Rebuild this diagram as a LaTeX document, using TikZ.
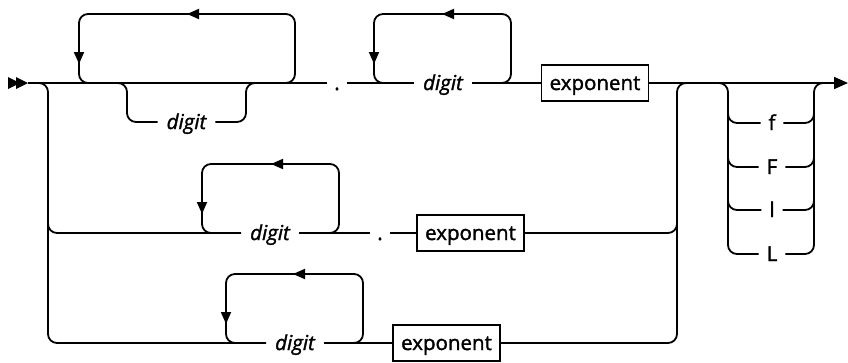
\documentclass[tikz,border=0pt]{standalone}
\usepackage{fontspec}
\setmainfont{Open Sans}[FakeBold=1.6]
\usetikzlibrary{arrows.meta}
\begin{document}
\begin{tikzpicture}[x=1pt,y=-1pt,line width=1.8pt,
  railpath/.style={rounded corners=9pt},
  lbl/.style={font=\fontsize{20.5}{24}\selectfont,inner xsep=9pt,inner ysep=0pt,
    text height=15.5pt,text depth=1.5pt,outer sep=0pt},
  ntlabel/.style={lbl,font=\fontsize{20.5}{24}\selectfont\itshape},
  termlabel/.style={lbl,inner xsep=8pt},
  dotlabel/.style={lbl,inner xsep=7pt},
  expbox/.style={lbl,draw,line width=1.6pt,inner xsep=8pt,minimum height=36pt},
  headA/.style={-{Triangle[length=12pt,width=10pt]}},
  headEnd/.style={-{Triangle[length=14pt,width=12pt]}},
]
\useasboundingbox (0,0) rectangle (848,362);

% start marks
\fill (8,77) -- (20,83) -- (8,89) -- cycle;
\fill (16,77) -- (28,83) -- (16,89) -- cycle;

% nodes
\coordinate (start) at (28,83);
\coordinate (end) at (848,83);
\node[ntlabel] (d1) at (186.5,122) {digit};
\node[dotlabel] (p1) at (337,83) {.};
\node[ntlabel] (d2) at (443,83) {digit};
\node[expbox] (e1) at (595,83) {exponent};
\node[termlabel] (f1) at (772,123) {f};
\node[termlabel] (f2) at (772,167) {F};
\node[termlabel] (f3) at (772,210) {l};
\node[termlabel] (f4) at (772,254) {L};
\node[ntlabel] (d3) at (270,233) {digit};
\node[dotlabel] (p2) at (380,233) {.};
\node[expbox] (e2) at (470.5,233) {exponent};
\node[ntlabel] (d4) at (295,343) {digit};
\node[expbox] (e3) at (446.5,343) {exponent};

% row 1 main line
\draw (start) -- (p1);
\draw (p1) -- (d2);
\draw (d2) -- (e1);
\draw[headEnd] (e1) -- (end);

% loop 1
\draw[railpath] (280,83) -- (295,83) -- (295,14) -- (79,14) -- (79,83) -- (94,83);
\draw[headA] (205,14) -- (187,14);
\draw[headA] (79,46) -- (79,64);
% optional digit below
\draw[railpath] (110,83) -- (127,83) -- (127,122) -- (d1);
\draw[railpath] (d1) -- (246,122) -- (246,83) -- (263,83);

% loop 2
\draw[railpath] (496,83) -- (511,83) -- (511,14) -- (374,14) -- (374,83) -- (389,83);
\draw[headA] (460,14) -- (442,14);
\draw[headA] (374,46) -- (374,64);

% left rail
\draw[railpath] (30,83) -- (48,83) -- (48,343) -- (d4);
\draw[railpath] (48,215) -- (48,233) -- (d3);
% right rail
\draw[railpath] (e3) -- (677,343) -- (677,83) -- (695,83);
\draw[railpath] (e2) -- (677,233) -- (677,215);

% row 2
\draw (d3) -- (p2);
\draw (p2) -- (e2);
\draw[railpath] (324,233) -- (339,233) -- (339,164) -- (202,164) -- (202,233) -- (217,233);
\draw[headA] (289,164) -- (271,164);
\draw[headA] (202,196) -- (202,214);

% row 3
\draw (d4) -- (e3);
\draw[railpath] (348,343) -- (363,343) -- (363,274) -- (226,274) -- (226,343) -- (241,343);
\draw[headA] (311,274) -- (293,274);
\draw[headA] (226,306) -- (226,324);

% suffix options
\draw[railpath] (710,83) -- (728,83) -- (728,254) -- (f4);
\draw[railpath] (728,105) -- (728,123) -- (f1);
\draw[railpath] (728,149) -- (728,167) -- (f2);
\draw[railpath] (728,192) -- (728,210) -- (f3);
\draw[railpath] (f4) -- (814,254) -- (814,83) -- (832,83);
\draw[railpath] (f1) -- (814,123) -- (814,105);
\draw[railpath] (f2) -- (814,167) -- (814,149);
\draw[railpath] (f3) -- (814,210) -- (814,192);
\end{tikzpicture}
\end{document}
